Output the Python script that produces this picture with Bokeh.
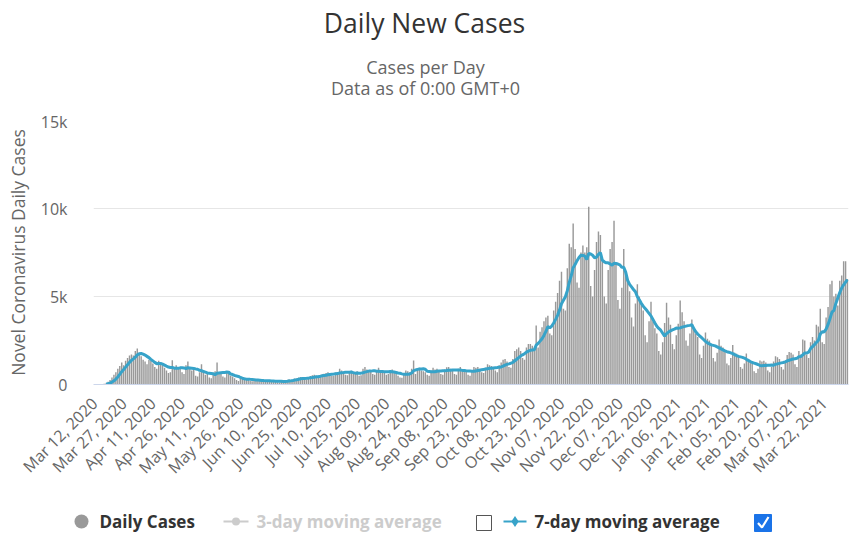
import numpy as np
import pandas as pd
from bokeh.plotting import figure
from bokeh.layouts import column
from bokeh.models import Range1d, FixedTicker
from bokeh.core.properties import value
from bokeh.embed import file_html
from bokeh.resources import INLINE

start_date = "2020-03-12"
daily_cases = [
    5, 8, 10, 15, 25, 40, 70,
    150, 250, 400, 550, 700, 900, 1050,
    1250, 1100, 1350, 1500, 1650, 1700, 1650,
    1900, 2040, 1800, 1600, 1400, 1300, 1150,
    1400, 1350, 1200, 1000, 900, 1350, 1200,
    1100, 950, 800, 650, 700, 1380, 900,
    1100, 900, 1000, 700, 600, 1100, 1300,
    1000, 800, 900, 500, 450, 700, 1150,
    650, 550, 600, 400, 350, 600, 750,
    1250, 650, 700, 450, 400, 750, 700,
    500, 450, 350, 250, 200, 350, 400,
    300, 280, 320, 200, 180, 260, 280,
    250, 230, 220, 150, 140, 220, 260,
    200, 190, 180, 130, 120, 170, 200,
    220, 260, 300, 220, 230, 340, 350,
    400, 420, 380, 300, 280, 400, 480,
    520, 560, 500, 380, 420, 580, 610,
    650, 700, 640, 480, 500, 680, 700,
    900, 800, 700, 550, 520, 720, 780,
    650, 600, 750, 500, 520, 900, 1000,
    850, 800, 750, 600, 550, 750, 950,
    800, 750, 700, 550, 600, 800, 850,
    700, 600, 500, 400, 380, 650, 800,
    750, 700, 900, 1360, 600, 900, 950,
    800, 750, 700, 550, 500, 800, 950,
    850, 900, 800, 600, 550, 850, 980,
    1000, 900, 850, 600, 550, 900, 1000,
    800, 850, 750, 550, 500, 800, 1000,
    950, 1000, 900, 700, 650, 950, 1150,
    1100, 1050, 1000, 800, 700, 1100, 1250,
    1400, 1450, 1300, 1000, 950, 1450, 1900,
    2000, 2100, 1900, 1500, 1400, 2100, 2300,
    2300, 2200, 2000, 3350, 2100, 3000, 3250,
    3600, 3800, 3900, 2900, 2800, 4200, 4700,
    5200, 5900, 6400, 4300, 4200, 6600, 8000,
    7800, 9150, 7700, 5800, 5500, 7500, 7900,
    7500, 7800, 10100, 5600, 5000, 6500, 8100,
    8700, 8500, 7000, 5000, 4600, 6500, 7700,
    8100, 9300, 6900, 4800, 4300, 5500, 7700,
    6200, 6000, 5300, 3800, 3300, 4600, 5700,
    5000, 4600, 4200, 2800, 2400, 3600, 4700,
    3600, 3200, 2900, 1900, 1700, 2400, 3500,
    4650, 3800, 3400, 2300, 2000, 2800, 3450,
    4770, 4100, 3600, 2500, 2200, 2900, 3700,
    3200, 2900, 2700, 1700, 1500, 2200, 2950,
    2600, 2500, 2300, 1500, 1300, 1800, 2550,
    2200, 2100, 1900, 1200, 1100, 1500, 2250,
    1800, 1750, 1600, 1000, 900, 1200, 1760,
    1400, 1300, 1200, 750, 650, 900, 1360,
    1300, 1350, 1250, 800, 700, 1000, 1300,
    1600, 1550, 1450, 1000, 850, 1250, 1680,
    1850, 1800, 1700, 1150, 1000, 1900, 1700,
    2560, 2500, 1700, 1500, 2400, 2700, 2500,
    3400, 3300, 4300, 2400, 2300, 3800, 4400,
    5700, 5900, 5000, 5150, 4490, 5900, 6200,
    7000, 7000, 6000,
]
dates = pd.date_range(start_date, periods=len(daily_cases), freq="D")
date_labels = [d.strftime("%b %d, %Y") for d in dates]
label_step = 15
y_ticks = [0, 5000, 10000, 15000]
y_tick_labels = ["0", "5k", "10k", "15k"]
title_text = "Daily New Cases"
subtitle_lines = ["Cases per Day", "Data as of 0:00 GMT+0"]
y_title = "Novel Coronavirus Daily Cases"
legend_names = ["Daily Cases", "3-day moving average", "7-day moving average"]

N = len(daily_cases)
idx = list(range(N))
ma7 = pd.Series(daily_cases, dtype=float).rolling(7).mean().tolist()

BAR = "#999999"
LINE = "#37a3c9"
FONT = "Open Sans"
W = 851
FX0, FX1 = 93, 848   # main frame edges


def blank(h, y0, y1):
    f = figure(width=W, height=h, output_backend="svg", toolbar_location=None,
               x_range=Range1d(0, W), y_range=Range1d(y1, y0),
               x_axis_type=None, y_axis_type=None, min_border=0)
    f.outline_line_color = None
    f.xgrid.visible = False
    f.ygrid.visible = False
    f.frame_align = False
    return f


def txt(f, text, x, y, size, color, align="left", style="normal"):
    f.text(x=[x], y=[y], text=[text], text_align=align, text_baseline="middle",
           text_font=value(FONT), text_font_size=size, text_color=color,
           text_font_style=style)


# header (canvas y 0..110)
head = blank(110, 0, 110)
txt(head, title_text, 424, 22, "26.5px", "#333333", align="center")
txt(head, subtitle_lines[0], 425, 66, "18px", "#666666", align="center")
txt(head, subtitle_lines[1], 425, 87, "18px", "#666666", align="center")

# main chart (canvas y 110..490)
p = figure(width=W, height=380, output_backend="svg", toolbar_location=None,
           x_range=Range1d(-0.5, N - 0.5), y_range=Range1d(0, 15000),
           min_border_left=FX0, min_border_right=W - FX1, min_border_top=10,
           min_border_bottom=106)
p.outline_line_color = None

p.vbar(x=idx, top=daily_cases, width=0.74, fill_color=BAR, line_color=None)
p.line(idx, ma7, line_width=3, line_color=LINE)

xt = list(range(0, N, label_step))
p.xaxis.ticker = FixedTicker(ticks=xt)
p.xaxis.major_label_overrides = {i: date_labels[i] for i in xt}
p.xaxis.major_label_orientation = np.pi / 4
p.xaxis.major_label_text_font = FONT
p.xaxis.major_label_text_font_size = "16px"
p.xaxis.major_label_text_color = "#666666"
p.xaxis.axis_line_color = "#ccd6eb"
p.xaxis.major_tick_line_color = None
p.xaxis.minor_tick_line_color = None
p.xaxis.major_label_standoff = 10
p.xgrid.visible = False

p.yaxis.ticker = FixedTicker(ticks=y_ticks)
p.yaxis.major_label_overrides = {v: l for v, l in zip(y_ticks, y_tick_labels)}
p.yaxis.major_label_text_font = FONT
p.yaxis.major_label_text_font_size = "16px"
p.yaxis.major_label_text_color = "#666666"
p.yaxis.axis_line_color = None
p.yaxis.major_tick_line_color = None
p.yaxis.minor_tick_line_color = None
p.yaxis.major_label_standoff = 20
p.yaxis.axis_label = y_title
p.yaxis.axis_label_text_font = FONT
p.yaxis.axis_label_text_font_style = "normal"
p.yaxis.axis_label_text_font_size = "17.5px"
p.yaxis.axis_label_text_color = "#666666"
p.yaxis.axis_label_standoff = 8
p.ygrid.grid_line_color = "#e6e6e6"

# legend (canvas y 490..540)
leg = blank(50, 490, 540)
leg.scatter(x=[81], y=[521], size=14, marker="circle", fill_color=BAR, line_color=None)
txt(leg, legend_names[0], 99, 521, "17px", "#333333", style="bold")
leg.segment(x0=[223], y0=[521], x1=[248], y1=[521], line_width=2, line_color="#cccccc")
leg.scatter(x=[235.5], y=[521], size=8, marker="circle", fill_color="#cccccc", line_color=None)
txt(leg, legend_names[1], 256, 521, "17px", "#cccccc", style="bold")
leg.rect(x=[483.5], y=[522.5], width=15, height=15, fill_color="white",
         line_color="#555555", line_width=1)
leg.segment(x0=[503], y0=[521], x1=[526], y1=[521], line_width=2, line_color=LINE)
leg.scatter(x=[514.5], y=[521], size=11, marker="diamond", fill_color=LINE, line_color=None)
txt(leg, legend_names[2], 534, 521, "17px", "#333333", style="bold")
leg.rect(x=[762.5], y=[522.5], width=17, height=17, fill_color="#1a73e8",
         line_color="#1a73e8")
leg.line(x=[757.5, 761.5, 768], y=[522.5, 527, 516.5], line_width=2.2, line_color="white")

layout = column(head, p, leg, spacing=0)
open("out.html", "w").write(file_html(layout, INLINE))
